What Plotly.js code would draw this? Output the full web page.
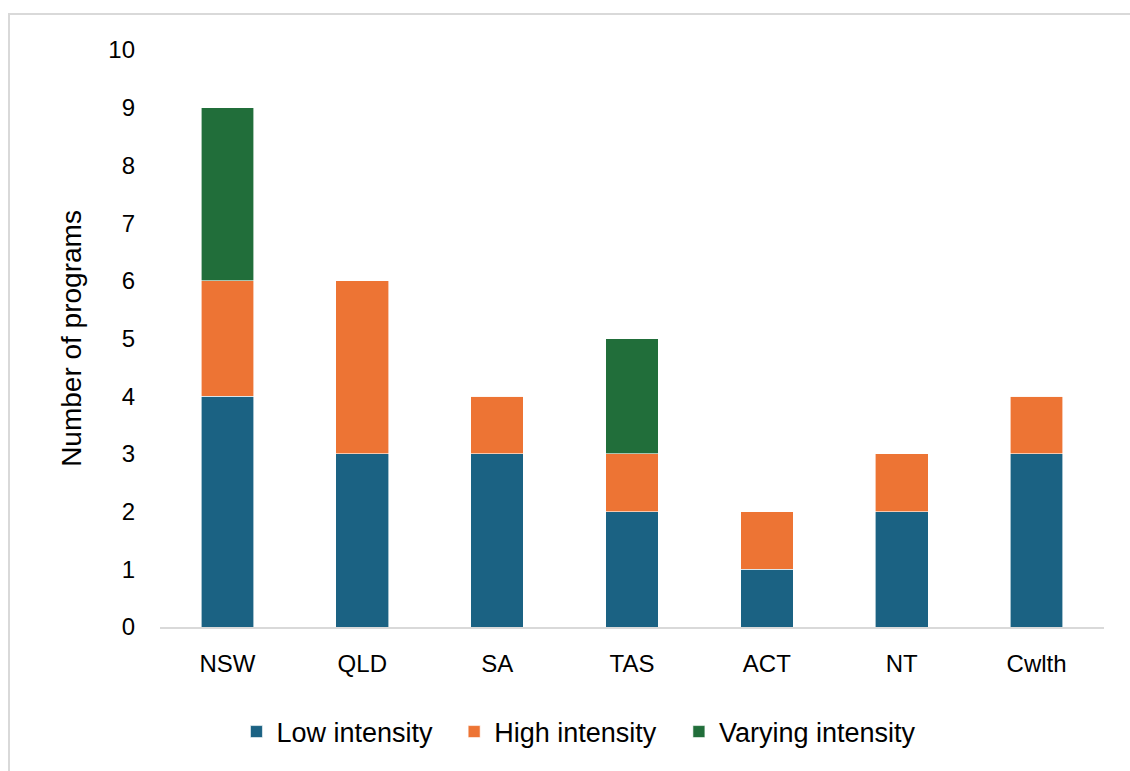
<!DOCTYPE html>
<html>
<head>
<meta charset="utf-8">
<script src="https://cdn.plot.ly/plotly-3.0.1.min.js"></script>
<style>
  html, body { margin: 0; padding: 0; background: #ffffff; overflow: hidden; }
  #frame {
    position: absolute; left: 8px; top: 13px; width: 1300px; height: 900px;
    border: 2.5px solid #d9d9d9; box-sizing: border-box;
  }
  #chart { position: absolute; left: 0; top: 0; width: 1130px; height: 771px; }
</style>
</head>
<body>
<div id="frame"></div>
<div id="chart"></div>
<script>
// Programs per jurisdiction, split by intensity
const jurisdictions = ['NSW', 'QLD', 'SA', 'TAS', 'ACT', 'NT', 'Cwlth'];
const lowIntensity = [4, 3, 3, 2, 1, 2, 3];
const highIntensity = [2, 3, 1, 1, 1, 1, 1];
const varyingIntensity = [3, 0, 0, 2, 0, 0, 0];
const yTicks = [0, 1, 2, 3, 4, 5, 6, 7, 8, 9, 10];

const seg = {color: '#ffffff', width: 0.6};
const traces = [
  {type: 'bar', name: 'Low intensity', x: jurisdictions, y: lowIntensity, legend: 'legend',
   marker: {color: '#1b6283', line: seg}, hoverinfo: 'x+y+name'},
  {type: 'bar', name: 'High intensity', x: jurisdictions, y: highIntensity, legend: 'legend2',
   marker: {color: '#ed7434', line: seg}, hoverinfo: 'x+y+name'},
  {type: 'bar', name: 'Varying intensity', x: jurisdictions, y: varyingIntensity, legend: 'legend3',
   marker: {color: '#216e3a', line: seg}, hoverinfo: 'x+y+name'}
];

// one single-entry legend per series, laid out in a row under the axis
const legendBase = {
  orientation: 'h', xanchor: 'left', y: -0.182, yanchor: 'middle',
  font: {size: 27, color: '#000000'}, bgcolor: 'rgba(0,0,0,0)'
};

const layout = {
  width: 1130, height: 771,
  barmode: 'stack',
  bargap: 0.61,
  paper_bgcolor: 'rgba(0,0,0,0)',
  plot_bgcolor: 'rgba(0,0,0,0)',
  margin: {l: 159.5, r: 25.5, t: 50, b: 144},
  font: {family: 'Liberation Sans, Arial, sans-serif', color: '#000000', size: 24},
  xaxis: {
    showline: true, linecolor: '#d9d9d9', linewidth: 2,
    ticks: '', ticklabelstandoff: 14,
    tickfont: {size: 24, color: '#000000'}
  },
  yaxis: {
    range: [0, 10], tickvals: yTicks, ticktext: yTicks.map(String),
    showgrid: false, zeroline: false, showline: false, ticks: '',
    ticklabelstandoff: 24,
    tickfont: {size: 24, color: '#000000'},
    title: {text: 'Number of programs', font: {size: 28, color: '#000000'}, standoff: 18}
  },
  legend: Object.assign({}, legendBase, {x: 0.081}),
  legend2: Object.assign({}, legendBase, {x: 0.3116}),
  legend3: Object.assign({}, legendBase, {x: 0.5497}),
  showlegend: true
};

Plotly.newPlot('chart', traces, layout, {displayModeBar: false, staticPlot: true});
</script>
</body>
</html>
